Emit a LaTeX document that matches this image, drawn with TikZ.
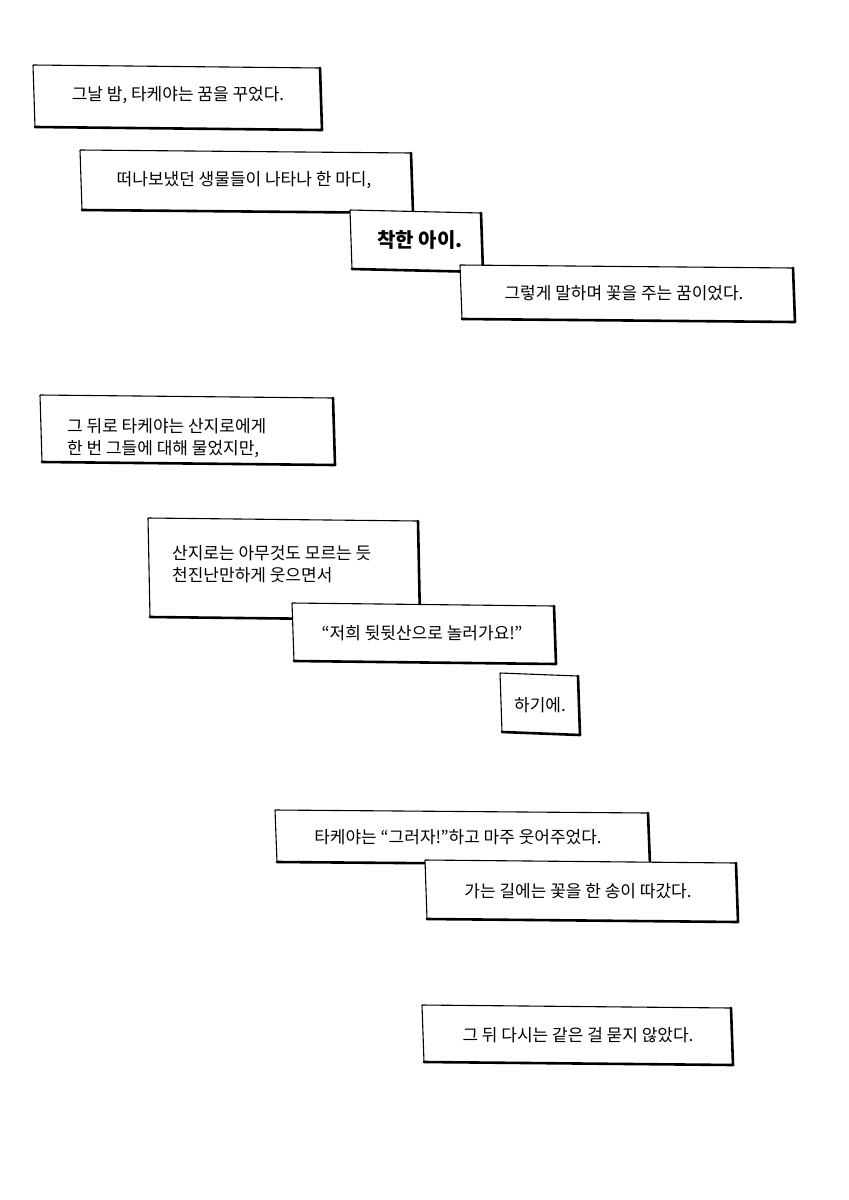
\documentclass[tikz,border=0pt]{standalone}
\usepackage{fontspec}
\setmainfont{Noto Sans CJK KR}
\newcommand\cmbox[4]{% x1 y1 x2 y2
  \fill[white] (#1,#2) -- (#3-2,#2+3) -- (#3,#4) -- (#1+2,#4-3) -- cycle;
  \draw[line width=1.1pt,line join=round] (#1,#2) -- (#3-2,#2+3);
  \draw[line width=1.1pt,line join=round] (#1,#2) -- (#1+2,#4-3);
  \draw[line width=2.6pt,line join=round,line cap=round] (#3-2,#2+3) -- (#3,#4) -- (#1+2,#4-3);
}
\begin{document}
\begin{tikzpicture}[x=1pt,y=-1pt,
  txt/.style={font=\fontsize{17}{22}\selectfont,inner sep=0pt},
  txtl/.style={txt,anchor=west,align=left}]
\useasboundingbox[fill=white] (0,0) rectangle (849,1200);
\cmbox{33}{65}{322}{130}
\node[txt] (t1) at (178,95) {그날 밤, 타케야는 꿈을 꾸었다.};
\cmbox{80}{150}{413}{213}
\node[txt] (t2) at (244,180) {떠나보냈던 생물들이 나타나 한 마디,};
\cmbox{350}{210}{483}{272}
\node[txt] (t3) at (420,240) {\fontsize{20}{24}\selectfont\bfseries\itshape 착한 아이.};
\cmbox{460}{265}{795}{322}
\node[txt] (t4) at (624,293) {그렇게 말하며 꽃을 주는 꿈이었다.};
\cmbox{40}{395}{335}{465}
\node[txtl] (t5) at (67,438) {그 뒤로 타케야는 산지로에게\\한 번 그들에 대해 물었지만,};
\cmbox{148}{518}{420}{620}
\node[txtl] (t6) at (172,564) {산지로는 아무것도 모르는 듯\\천진난만하게 웃으면서};
\cmbox{292}{603}{556}{664}
\node[txt] (t7) at (422,633) {“저희 뒷뒷산으로 놀러가요!”};
\cmbox{500}{673}{580}{735}
\node[txt] (t8) at (540,705) {하기에.};
\cmbox{275}{810}{650}{865}
\node[txt] (t9) at (458,837) {타케야는 “그러자!”하고 마주 웃어주었다.};
\cmbox{425}{860}{738}{922}
\node[txt] (t10) at (578,891) {가는 길에는 꽃을 한 송이 따갔다.};
\cmbox{422}{1005}{733}{1065}
\node[txt] (t11) at (578,1035) {그 뒤 다시는 같은 걸 묻지 않았다.};
\end{tikzpicture}
\end{document}
